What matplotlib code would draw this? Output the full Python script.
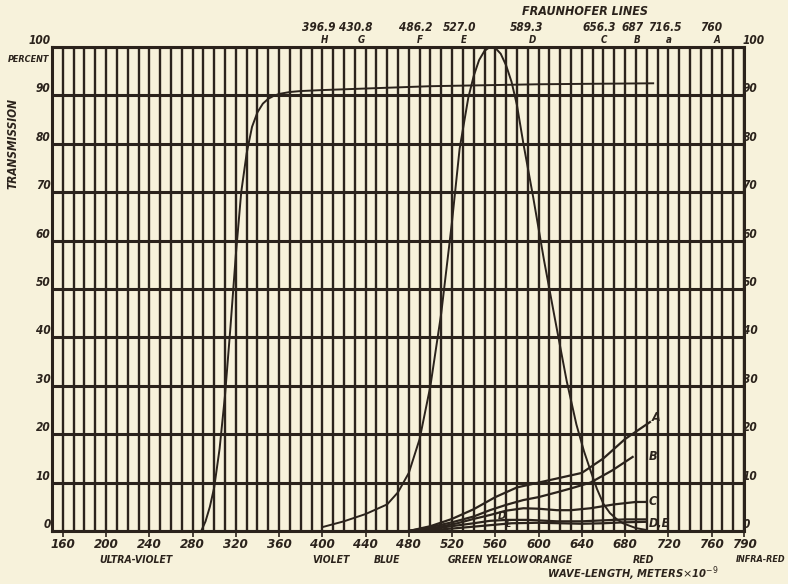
import matplotlib.pyplot as plt

# wave-length axis ticks
x_ticks = [160, 200, 240, 280, 320, 360, 400, 440, 480, 520, 560, 600, 640, 680, 720, 760, 790]
y_ticks = [0, 10, 20, 30, 40, 50, 60, 70, 80, 90, 100]

# ultra-violet transmitting filter
uv_nm = [288, 292, 296, 300, 305, 310, 315, 320, 325, 330, 335, 340, 345, 350, 355, 360, 370, 380, 400, 450, 500, 550, 600, 650, 706]
uv_pct = [0, 2, 5, 9, 17, 28, 42, 57, 70, 78, 83.5, 86.5, 88.3, 89.3, 89.9, 90.3, 90.7, 90.9, 91.1, 91.5, 91.9, 92.1, 92.3, 92.4, 92.5]

# green filter
green_nm = [400, 420, 440, 460, 470, 480, 490, 500, 510, 520, 527, 535, 540, 545, 550, 555, 560, 565, 570, 575, 580, 586, 595, 605, 615, 626, 635, 642, 648, 654, 660, 666, 672, 678, 690, 700]
green_pct = [0.8, 2, 3.5, 5.5, 8, 12, 19, 30, 45, 64, 79, 89.5, 94, 97.3, 99.2, 100, 99.8, 98.6, 96.2, 92.8, 88, 80, 69, 56, 44, 31, 22, 16.5, 12.5, 8.7, 5.6, 3.7, 2.5, 1.6, 0.6, 0.2]

# glasses A to E
a_nm = [480, 500, 520, 540, 560, 580, 600, 620, 640, 660, 680, 703]
a_pct = [0, 1, 2.5, 4.5, 7, 9, 10, 11, 12, 15, 19, 22.5]
b_nm = [480, 500, 520, 540, 555, 570, 586, 600, 617, 630, 648, 668, 687]
b_pct = [0, 0.8, 1.8, 3, 4.3, 5.4, 6.4, 7, 8, 8.8, 10, 12.5, 15.3]
c_nm = [480, 500, 525, 540, 555, 570, 586, 600, 617, 630, 648, 670, 690, 700]
c_pct = [0, 0.5, 1.6, 2.5, 3.3, 4.2, 4.7, 4.6, 4.3, 4.3, 4.7, 5.5, 6, 6]
d_nm = [480, 500, 520, 540, 555, 571, 590, 617, 640, 660, 680, 700]
d_pct = [0, 0.4, 1, 1.6, 2.1, 2.3, 2.3, 2, 2, 2.2, 2.4, 2.4]
e_nm = [480, 500, 520, 540, 560, 575, 600, 620, 640, 660, 680, 700]
e_pct = [0, 0.2, 0.5, 0.9, 1.3, 1.6, 1.7, 1.6, 1.5, 1.6, 1.8, 1.9]

# Fraunhofer lines
fr_nm = [396.9, 430.8, 486.2, 527.0, 589.3, 656.3, 687, 716.5, 760]
fr_val = ["396.9", "430.8", "486.2", "527.0", "589.3", "656.3", "687", "716.5", "760"]
fr_letter = ["H", "G", "F", "E", "D", "C", "B", "a", "A"]

colours = ["ULTRA-VIOLET", "VIOLET", "BLUE", "GREEN", "YELLOW", "ORANGE", "RED"]
colour_nm = [228, 408, 460, 532, 571, 611, 697]

ink = "#2b231c"
paper = "#f7f2db"
fnt = dict(family=["DejaVu Sans"], fontstretch="condensed", style="italic", weight="bold", color=ink)

fig = plt.figure(figsize=(7.88, 5.84), dpi=100, facecolor=paper)
ax = fig.add_axes([52/788, 53/584, 692/788, 484/584])
ax.set_facecolor(paper)
ax.set_xlim(150, 790)
ax.set_ylim(0, 100)

ax.set_xticks(range(150, 791, 10), minor=True)
ax.set_xticks(x_ticks)
ax.set_xticklabels([str(v) for v in x_ticks], fontsize=9.5, **fnt)
ax.set_yticks(y_ticks)
ax.set_yticklabels([])
ax.tick_params(axis="x", which="major", length=4, width=1.2, color=ink, pad=1)
ax.tick_params(axis="x", which="minor", length=0)
ax.tick_params(axis="y", length=0)
ax.grid(which="both", axis="x", color=ink, lw=1.7)
ax.grid(which="major", axis="y", color=ink, lw=2.2)
for s in ax.spines.values():
    s.set_color(ink)
    s.set_linewidth(2.2)

# percent labels sitting on the lines, both sides
yt = ax.get_yaxis_transform()
for v in y_ticks:
    ax.text(-0.002, v, str(v), transform=yt, fontsize=8.5, ha="right", va="bottom", **fnt)
    ax.text(0.998, v, str(v), transform=yt, fontsize=8.5, ha="left", va="bottom", **fnt)

ax.plot(uv_nm, uv_pct, color=ink, lw=1.4)
ax.plot(green_nm, green_pct, color=ink, lw=1.4)
for xs, ys in [(a_nm, a_pct), (b_nm, b_pct), (c_nm, c_pct), (d_nm, d_pct), (e_nm, e_pct)]:
    ax.plot(xs, ys, color=ink, lw=1.6)

ax.text(705, 23.5, "A", fontsize=9, ha="left", va="center", **fnt)
ax.text(702, 15.3, "B", fontsize=9, ha="left", va="center", **fnt)
ax.text(702, 6, "C", fontsize=9, ha="left", va="center", **fnt)
ax.text(702, 1.6, "D,E", fontsize=9, ha="left", va="center", **fnt)
ax.text(562, 3.0, "D", fontsize=8, ha="left", va="center", **fnt)
ax.text(570, 1.3, "E", fontsize=6.5, ha="left", va="center", **fnt)

# Fraunhofer labels on top
ax.vlines(fr_nm, 100, 101.8, color=ink, lw=1)
for nm, v, l in zip(fr_nm, fr_val, fr_letter):
    ax.text(nm + 1.5, 100.4, l, fontsize=7, ha="left", va="bottom", **fnt)
    ax.text(nm, 104.1, v, fontsize=8.5, ha="center", va="center", **fnt)
ax.text(643, 107.3, "FRAUNHOFER LINES", fontsize=9, ha="center", va="center", **fnt)

# left axis extras
ax.text(-0.004, 97.4, "PERCENT", transform=yt, fontsize=6.5, ha="right", va="center", **fnt)
ax.text(-0.056, 0.80, "TRANSMISSION", transform=ax.transAxes, fontsize=8.5, rotation=90,
        ha="center", va="center", **fnt)

for c, nm in zip(colours, colour_nm):
    ax.text(nm, -5.9, c, fontsize=7.5, ha="center", va="center", **fnt)
ax.text(805, -5.9, "INFRA-RED", fontsize=6.5, ha="center", va="center", **fnt)
ax.text(687, -8.9, r"WAVE-LENGTH, METERS$\times$10$^{-9}$", fontsize=8, ha="center", va="center", **fnt)

fig.savefig("out.png", dpi=100, facecolor=paper)
